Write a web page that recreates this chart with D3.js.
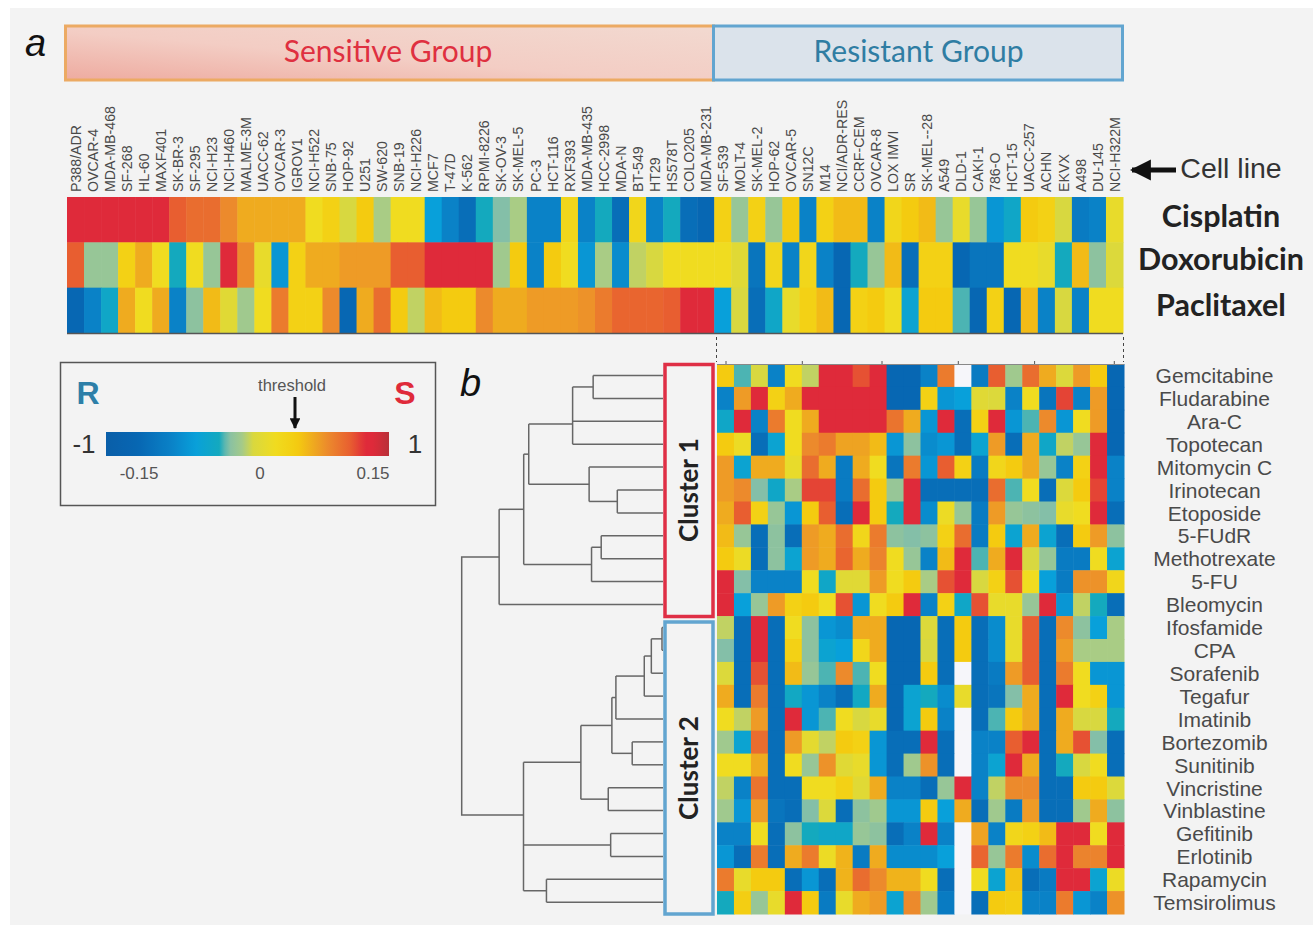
<!DOCTYPE html>
<html>
<head>
<meta charset="utf-8">
<style>
  html, body { margin: 0; padding: 0; background: #fff; }
  svg { display: block; }
  text { font-family: "Liberation Sans", Arial, sans-serif; }
  .lato { font-family: Lato, sans-serif; }
</style>
<script src="https://cdn.jsdelivr.net/npm/d3@7"></script>
</head>
<body>
<script>
// cell lines, sensitive group first then resistant group
const sensitiveLines = ["P388/ADR","OVCAR-4","MDA-MB-468","SF-268","HL-60","MAXF401","SK-BR-3","SF-295","NCI-H23","NCI-H460","MALME-3M","UACC-62","OVCAR-3","IGROV1","NCI-H522","SNB-75","HOP-92","U251","SW-620","SNB-19","NCI-H226","MCF7","T-47D","K-562","RPMI-8226","SK-OV-3","SK-MEL-5","PC-3","HCT-116","RXF393","MDA-MB-435","HCC-2998","MDA-N","BT-549","HT29","HS578T","COLO205","MDA-MB-231"];
const resistantLines = ["SF-539","MOLT-4","SK-MEL-2","HOP-62","OVCAR-5","SN12C","M14","NCI/ADR-RES","CCRF-CEM","OVCAR-8","LOX IMVI","SR","SK-MEL--28","A549","DLD-1","CAKI-1","786-O","HCT-15","UACC-257","ACHN","EKVX","A498","DU-145","NCI-H322M"];
const cellLines = sensitiveLines.concat(resistantLines);

const standards = ["Cisplatin", "Doxorubicin", "Paclitaxel"];
const cisplatin = [.14,.14,.14,.14,.14,.14,.12,.11,.11,.09,.07,.07,.07,.07,.02,.04,-.01,.05,-.02,.02,.02,-.08,-.11,-.14,-.05,-.04,-.02,-.11,-.11,.03,-.11,-.05,-.14,.03,-.11,-.05,-.14,-.15,.04,-.03,.04,-.03,.05,-.11,.04,.06,.06,-.11,.03,.05,.06,-.03,.01,-.03,-.09,-.06,.05,.04,-.01,-.12,-.11,.01];
const doxorubicin = [.12,-.03,-.03,.04,.07,.02,-.05,.02,-.03,.14,.09,.01,-.09,.04,.07,.07,.08,.08,.08,.12,.12,.14,.14,.14,.14,-.025,.05,-.11,.05,.02,-.09,-.02,-.1,-.015,-.01,.02,.02,.02,.02,0,-.13,.03,-.11,.03,-.11,-.15,-.05,-.03,.06,-.14,.04,.04,-.15,-.13,-.13,.02,.02,.01,-.05,.06,-.035,-.005];
const paclitaxel = [-.15,-.11,-.06,.07,.02,.07,-.11,-.035,.06,0,-.025,.02,.1,.04,.04,.09,-.15,.07,.11,.05,-.015,.06,.05,.05,.09,.07,.07,.08,.08,.08,.085,.1,.115,.115,.115,.12,.14,.14,-.08,-.01,-.14,-.06,.01,.04,.06,-.15,.04,.05,.02,-.07,.05,.05,-.045,-.15,.04,-.15,.06,-.11,-.01,-.11,.02,.02];
const standardScores = [cisplatin, doxorubicin, paclitaxel];

const drugs = ["Gemcitabine","Fludarabine","Ara-C","Topotecan","Mitomycin C","Irinotecan","Etoposide","5-FUdR","Methotrexate","5-FU","Bleomycin","Ifosfamide","CPA","Sorafenib","Tegafur","Imatinib","Bortezomib","Sunitinib","Vincristine","Vinblastine","Gefitinib","Erlotinib","Rapamycin","Temsirolimus"];
// one row per drug, columns follow resistantLines, null = no data (white)
const drugScores = [
  [.05,-.045,-.01,-.11,.02,-.015,.14,.14,.125,.14,-.15,-.15,-.11,.1,null,-.12,.12,-.025,.11,.07,-.005,.08,.05,-.15],
  [-.11,.08,.14,.04,.07,.14,.14,.14,.14,.14,-.15,-.15,.04,-.09,-.08,0,-.005,-.11,.02,-.13,.13,-.11,.08,-.15],
  [-.06,.14,-.11,.1,.02,.07,.14,.14,.14,.14,.105,.07,-.09,.14,-.14,.04,.14,-.09,-.045,.09,-.09,.02,.08,-.15],
  [.05,.015,-.14,-.07,.02,.09,.1,.075,.075,.06,-.09,-.035,-.1,-.09,-.14,-.07,.08,-.14,.07,-.06,-.015,-.03,.14,-.15],
  [.08,-.07,.07,.07,.01,.11,.07,-.12,.07,.02,-.13,.1,-.09,.12,.04,-.12,.03,.05,.07,-.03,-.11,.04,.14,-.11],
  [.08,.09,-.04,-.06,-.02,.13,.13,-.12,.11,.05,-.03,.14,-.14,-.14,-.14,-.14,.11,-.045,.02,-.14,-.005,.05,.13,-.11],
  [.07,.12,.04,-.03,-.09,.05,.12,-.14,.14,.05,-.05,.14,-.1,.015,-.03,-.12,.08,-.03,-.035,-.04,.01,.02,.14,-.14],
  [.06,-.03,-.14,-.035,-.14,.08,.07,.11,.03,.1,-.035,-.04,-.035,.04,.11,-.12,.05,-.07,.07,-.07,-.14,.05,.08,-.035],
  [.05,.015,-.14,-.035,-.07,.08,.07,.115,.07,.095,.02,-.03,-.11,.06,.14,-.045,.07,.14,-.01,-.03,-.12,-.12,.02,-.07],
  [.14,-.04,-.11,-.11,-.11,.02,-.06,0,0,.08,.02,.05,-.02,.125,.14,-.01,.04,.125,.02,-.08,-.12,.085,.085,.03],
  [.14,-.08,-.03,.08,.04,.05,.02,.125,-.09,.02,.05,.14,-.11,.04,-.06,.125,.01,.01,-.03,.14,-.09,-.015,-.05,-.14],
  [-.015,-.14,.14,-.14,.02,-.035,-.09,-.1,.07,.07,-.15,-.15,-.005,-.14,.05,-.14,-.1,.01,.12,-.14,.09,-.035,-.08,-.02],
  [-.04,-.14,.14,-.14,.04,-.035,-.07,-.08,.03,.07,-.15,-.15,-.01,-.14,.05,-.14,-.1,.01,.12,-.14,.08,-.02,-.02,-.02],
  [-.005,-.14,.125,-.14,.06,-.03,-.045,.09,-.045,.02,-.15,-.15,.05,-.14,null,-.14,-.12,.08,.12,-.14,.1,.02,-.09,-.09],
  [.07,-.14,.1,-.14,-.055,-.09,-.11,-.14,-.055,.07,-.15,-.07,-.05,-.1,.01,-.14,-.13,-.04,.07,-.14,.14,.02,.04,-.09],
  [.02,-.015,.08,-.14,.14,-.09,-.045,.02,-.01,.01,-.15,-.07,.05,-.11,null,-.14,-.045,.05,.07,-.14,.07,-.01,-.01,-.05],
  [-.025,-.07,.11,-.14,.08,.005,-.015,.05,.04,-.09,-.14,-.14,.14,-.14,null,-.11,-.11,.12,.14,-.14,.07,.125,-.04,-.14],
  [.02,.02,.07,-.14,.02,-.03,.085,0,.01,-.09,-.14,-.025,.085,-.14,null,-.11,-.07,.14,.07,-.14,-.05,-.01,.02,-.14],
  [-.015,-.11,.105,-.14,-.14,.02,.02,.04,0,.07,-.11,-.11,-.14,-.03,.14,-.11,-.015,.09,.09,-.14,-.14,.05,.05,-.005],
  [-.025,-.09,.08,-.13,-.14,-.04,-.005,-.14,-.035,-.025,-.09,-.09,.05,-.08,.07,-.14,-.025,-.12,.08,-.14,-.14,-.025,.07,-.035],
  [-.11,-.11,.02,-.14,-.035,-.05,-.06,-.06,-.03,-.035,-.14,-.11,.14,-.11,null,.075,-.11,.03,.04,.06,.14,.14,.02,.14],
  [-.09,-.14,.1,-.14,.07,.1,.015,.065,-.12,.07,-.1,-.1,-.1,-.08,null,.115,-.03,.1,-.1,.11,.14,.095,.095,.14],
  [.1,.01,.05,.05,-.14,-.09,-.14,.065,.11,.09,.065,.065,.02,-.14,null,.02,-.07,.055,-.14,-.12,.14,.14,-.07,.015],
  [-.05,.045,-.03,.01,.14,.05,-.12,.01,.07,.08,-.07,.09,-.025,-.12,null,-.14,.05,.045,-.11,-.11,.1,-.09,-.11,.085]
];

// dendrogram: h = merge height (0..1), kids = subtrees or row numbers, at = stem row when it is off centre
const cluster1Tree = {h: .814, kids: [
  {h: .692, kids: [
    {h: .667, kids: [
      {h: .449, at: 2.12, kids: [{h: .347, kids: [0, 1]}, 2, 3]},
      {h: .367, kids: [4, {h: .227, kids: [5, 6]}]}
    ]},
    {h: .355, kids: [{h: .307, kids: [7, 8]}, 9]}
  ]},
  10
]};
const cluster2Tree = {h: .693, at: 19.19, kids: [
  {h: .408, kids: [
    {h: .254, kids: [
      {h: .234, kids: [{h: .093, kids: [{h: .058, kids: [{h: .005, kids: [11, 12]}, 13]}, 14]}, 15]},
      {h: .153, kids: [16, 17]}
    ]},
    {h: .272, kids: [18, 19]}
  ]},
  {h: .26, kids: [20, 21]},
  {h: .579, kids: [22, 23]}
]};

// colour legend
const colorStops = [-.19,-.15,-.11,-.08,-.05,-.04,-.02,-.01,.02,.05,.07,.09,.12,.14,.15,.17];
const colorRange = ["#0a5ea8","#0767b3","#0a82c7","#08a0da","#14a9be","#84bfa8","#a9cc85","#d8d840","#f0dc20","#f4cb10","#efab1f","#ec8a2c","#e85e30","#df2a3a","#df2a3a","#b83038"];
const legendTicks = [-.15, 0, .15];

const width = 1313;
const height = 928;

const color = d3.scaleLinear().domain(colorStops).range(colorRange).clamp(true);
const cellColor = d => d === null ? "#f6f6fa" : color(d);

const svg = d3.select("body").append("svg")
  .attr("width", width)
  .attr("height", height);

const defs = svg.append("defs");

// grey page behind the figure
svg.append("rect")
  .attr("x", 10).attr("y", 8)
  .attr("width", width - 10).attr("height", 917)
  .attr("fill", "#f3f3f3");

// ---- panel a ----
const sensGrad = defs.append("linearGradient").attr("id", "sensGrad")
  .attr("x1", "0").attr("y1", "1").attr("x2", "1").attr("y2", "0");
sensGrad.append("stop").attr("offset", "0").attr("stop-color", "#eeaba0");
sensGrad.append("stop").attr("offset", "0.45").attr("stop-color", "#f3cdc4");
sensGrad.append("stop").attr("offset", "1").attr("stop-color", "#f2d9d0");

svg.append("rect")
  .attr("x", 65.5).attr("y", 26).attr("width", 648).attr("height", 54)
  .attr("fill", "url(#sensGrad)").attr("stroke", "#ecaa63").attr("stroke-width", 3);
svg.append("rect")
  .attr("x", 713.5).attr("y", 26).attr("width", 409).attr("height", 54)
  .attr("fill", "#dbe3eb").attr("stroke", "#62a5d0").attr("stroke-width", 3);

svg.append("text").attr("class", "lato")
  .attr("x", 388).attr("y", 62).attr("text-anchor", "middle")
  .attr("font-size", 30).attr("fill", "#df3040").text("Sensitive Group");
svg.append("text").attr("class", "lato")
  .attr("x", 918.5).attr("y", 62).attr("text-anchor", "middle")
  .attr("font-size", 30).attr("fill", "#2f7da3").text("Resistant Group");

svg.append("text")
  .attr("x", 25).attr("y", 56)
  .attr("font-size", 38).attr("font-style", "italic").attr("fill", "#111").text("a");

const xLines = d3.scaleBand().domain(cellLines).range([67, 1123]);
const yStandard = d3.scaleBand().domain(standards).range([197, 333]);

svg.append("g")
  .selectAll("g")
  .data(standardScores)
  .join("g")
  .each(function(scores, i) {
    d3.select(this).selectAll("rect")
      .data(scores)
      .join("rect")
      .attr("x", (d, j) => xLines(cellLines[j]))
      .attr("y", yStandard(standards[i]))
      .attr("width", xLines.bandwidth() + 0.5)
      .attr("height", yStandard.bandwidth() + 0.5)
      .attr("fill", cellColor);
  });

svg.append("line")
  .attr("x1", 67).attr("x2", 1123).attr("y1", 333.5).attr("y2", 333.5)
  .attr("stroke", "#555").attr("stroke-width", 1.5);

// cell line names, rotated
const lineAxis = d3.axisTop(xLines).tickSize(0).tickPadding(0);
const lineAxisG = svg.append("g").attr("transform", "translate(0,192)").call(lineAxis);
lineAxisG.select(".domain").remove();
lineAxisG.selectAll("text")
  .attr("transform", "rotate(-90)")
  .attr("x", 0).attr("y", 0).attr("dx", 0).attr("dy", "0.36em")
  .attr("text-anchor", "start")
  .attr("font-size", 14.2)
  .attr("fill", "#4a4a4a")
  .style("font-family", "'Liberation Sans', Arial, sans-serif");

svg.append("text").attr("class", "lato")
  .selectAll("tspan")
  .data(standards)
  .join("tspan")
  .attr("x", 1221)
  .attr("y", (d, i) => [227, 270, 316][i])
  .attr("text-anchor", "middle")
  .attr("font-size", 30.5)
  .attr("font-weight", 700)
  .attr("fill", "#222")
  .text(d => d);

// arrow pointing at the cell line names
defs.append("marker").attr("id", "bigHead")
  .attr("viewBox", "0 0 10 10").attr("refX", 9).attr("refY", 5)
  .attr("markerWidth", 4.2).attr("markerHeight", 4.4)
  .attr("orient", "auto")
  .append("path").attr("d", "M0,0L10,5L0,10z").attr("fill", "#111");
svg.append("line")
  .attr("x1", 1176).attr("x2", 1132).attr("y1", 170).attr("y2", 170)
  .attr("stroke", "#111").attr("stroke-width", 5)
  .attr("marker-end", "url(#bigHead)");
svg.append("text")
  .attr("x", 1231).attr("y", 178).attr("text-anchor", "middle")
  .attr("font-size", 28.5).attr("fill", "#333").text("Cell line");

// ---- legend ----
svg.append("rect")
  .attr("x", 60.5).attr("y", 362.5).attr("width", 375).attr("height", 143)
  .attr("fill", "#f3f3f3").attr("stroke", "#555").attr("stroke-width", 1.5);

const xLegend = d3.scaleLinear()
  .domain([-.19, -.15, 0, .15, .17])
  .range([106, 139, 260, 373, 389]);

const legendGrad = defs.append("linearGradient").attr("id", "legendGrad");
const gradSteps = d3.range(0, 1.0001, 0.02);
legendGrad.selectAll("stop")
  .data(gradSteps)
  .join("stop")
  .attr("offset", d => d)
  .attr("stop-color", d => color(xLegend.invert(106 + d * 283)));

svg.append("rect")
  .attr("x", 106).attr("y", 432).attr("width", 283).attr("height", 24)
  .attr("fill", "url(#legendGrad)");

svg.append("g")
  .selectAll("text")
  .data(legendTicks)
  .join("text")
  .attr("x", xLegend)
  .attr("y", 479)
  .attr("text-anchor", "middle")
  .attr("font-size", 17)
  .attr("fill", "#555")
  .text(d => d === 0 ? "0" : d3.format(".2f")(d).replace("\u2212", "-"));

svg.append("text").attr("x", 88).attr("y", 404).attr("text-anchor", "middle")
  .attr("font-size", 32).attr("font-weight", 700).attr("fill", "#2d7fa8").text("R");
svg.append("text").attr("x", 405).attr("y", 404).attr("text-anchor", "middle")
  .attr("font-size", 32).attr("font-weight", 700).attr("fill", "#df2a3a").text("S");
svg.append("text").attr("x", 84).attr("y", 453).attr("text-anchor", "middle")
  .attr("font-size", 26).attr("fill", "#333").text("-1");
svg.append("text").attr("x", 415).attr("y", 453).attr("text-anchor", "middle")
  .attr("font-size", 26).attr("fill", "#333").text("1");
svg.append("text").attr("x", 292).attr("y", 391).attr("text-anchor", "middle")
  .attr("font-size", 16.5).attr("fill", "#555").text("threshold");

defs.append("marker").attr("id", "smallHead")
  .attr("viewBox", "0 0 10 10").attr("refX", 9).attr("refY", 5)
  .attr("markerWidth", 3.6).attr("markerHeight", 3.6)
  .attr("orient", "auto")
  .append("path").attr("d", "M0,0L10,5L0,10z").attr("fill", "#111");
svg.append("line")
  .attr("x1", 295).attr("x2", 295).attr("y1", 397).attr("y2", 428)
  .attr("stroke", "#111").attr("stroke-width", 3)
  .attr("marker-end", "url(#smallHead)");

// ---- panel b ----
svg.append("text")
  .attr("x", 460).attr("y", 396)
  .attr("font-size", 38).attr("font-style", "italic").attr("fill", "#111").text("b");

const xDrug = d3.scaleBand().domain(resistantLines).range([717, 1124]);
const yDrug = d3.scaleBand().domain(drugs).range([364, 914]);

svg.append("g")
  .selectAll("g")
  .data(drugScores)
  .join("g")
  .each(function(scores, i) {
    d3.select(this).selectAll("rect")
      .data(scores)
      .join("rect")
      .attr("x", (d, j) => xDrug(resistantLines[j]))
      .attr("y", yDrug(drugs[i]))
      .attr("width", xDrug.bandwidth() + 0.5)
      .attr("height", yDrug.bandwidth() + 0.5)
      .attr("fill", cellColor);
  });

// thin top axis of the heat map and the dashed guides up to panel a
const heatTicks = [0, 4.5, 9.2, 13.7, 18.2, 22.9];
const xHeatIdx = d3.scaleLinear().domain([0, 23]).range([725.5, 1115.5]);
const heatAxis = d3.axisTop(xHeatIdx).tickValues(heatTicks).tickSize(3).tickFormat("");
const heatAxisG = svg.append("g").attr("transform", "translate(0,364)").call(heatAxis);
heatAxisG.select(".domain").attr("stroke", "#888").attr("d", "M717,0.5H1124");
heatAxisG.selectAll("line").attr("stroke", "#555");

svg.append("g")
  .selectAll("line")
  .data([716.5, 1123.5])
  .join("line")
  .attr("x1", d => d).attr("x2", d => d)
  .attr("y1", 337).attr("y2", 362)
  .attr("stroke", "#444").attr("stroke-width", 1)
  .attr("stroke-dasharray", "3,3");

svg.append("g")
  .selectAll("text")
  .data(drugs)
  .join("text")
  .attr("x", 1214.5)
  .attr("y", d => yDrug(d) + yDrug.bandwidth() / 2)
  .attr("dy", "0.36em")
  .attr("text-anchor", "middle")
  .attr("font-size", 21)
  .attr("fill", "#4a4a4a")
  .text(d => d);

// dendrogram
const xTree = d3.scaleLinear().domain([0, 1]).range([663, 461.7]);
const yRow = d3.scaleLinear().domain([0, 23]).range([375.5, 902.2]);
const treeG = svg.append("g")
  .attr("fill", "none")
  .attr("stroke", "#666")
  .attr("stroke-width", 1.5);

function nodeRow(node) {
  if (typeof node === "number") return node;
  const rows = node.kids.map(nodeRow);
  return node.at !== undefined ? node.at : (d3.min(rows) + d3.max(rows)) / 2;
}

function drawTree(node) {
  if (typeof node === "number") return;
  const rows = node.kids.map(nodeRow);
  treeG.append("path")
    .attr("d", `M${xTree(node.h)},${yRow(d3.min(rows))}V${yRow(d3.max(rows))}`);
  node.kids.forEach((kid, i) => {
    const kidH = typeof kid === "number" ? 0 : kid.h;
    treeG.append("path")
      .attr("d", `M${xTree(node.h)},${yRow(rows[i])}H${xTree(kidH)}`);
    drawTree(kid);
  });
}
drawTree(cluster1Tree);
drawTree(cluster2Tree);

// root joining the two clusters
treeG.append("path")
  .attr("d", `M${xTree(cluster1Tree.h)},${yRow(nodeRow(cluster1Tree))}H${xTree(1)}V${yRow(nodeRow(cluster2Tree))}H${xTree(cluster2Tree.h)}`);

// cluster boxes
svg.append("rect")
  .attr("x", 665).attr("y", 364.5).attr("width", 48).attr("height", 252)
  .attr("fill", "#f3f3f3").attr("stroke", "#df2f45").attr("stroke-width", 3.5);
svg.append("rect")
  .attr("x", 665).attr("y", 622).attr("width", 48).attr("height", 292)
  .attr("fill", "#f3f3f3").attr("stroke", "#62a5d0").attr("stroke-width", 3.5);

svg.append("text").attr("class", "lato")
  .attr("transform", "translate(698,490) rotate(-90)")
  .attr("text-anchor", "middle")
  .attr("font-size", 26).attr("font-weight", 700).attr("fill", "#222").text("Cluster 1");
svg.append("text").attr("class", "lato")
  .attr("transform", "translate(698,768) rotate(-90)")
  .attr("text-anchor", "middle")
  .attr("font-size", 26).attr("font-weight", 700).attr("fill", "#222").text("Cluster 2");
</script>
</body>
</html>
